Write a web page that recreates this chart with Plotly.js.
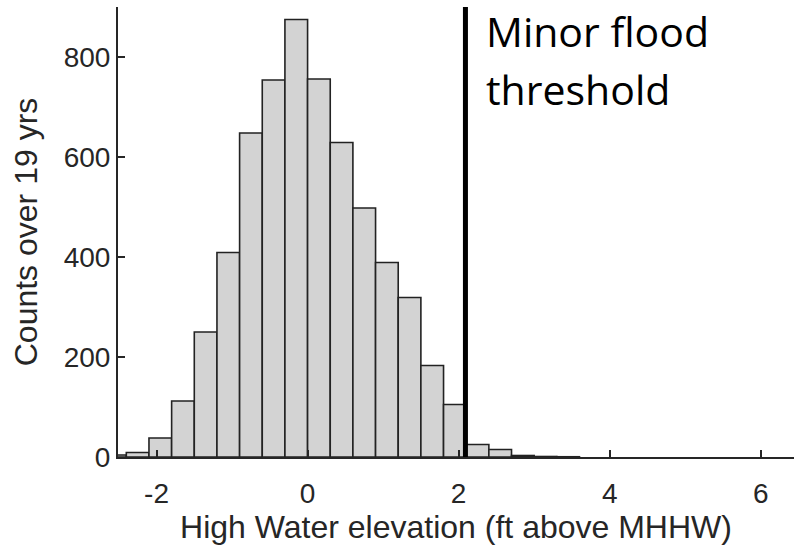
<!DOCTYPE html>
<html>
<head>
<meta charset="utf-8">
<script src="https://cdn.plot.ly/plotly-3.0.1.min.js"></script>
<style>html,body{margin:0;padding:0;background:#fff;}#chart{width:794px;height:550px;}</style>
</head>
<body>
<div id="chart"></div>
<script>
// Histogram bins (ft above MHHW), bin width 0.3
const binCenters = [-2.55, -2.25, -1.95, -1.65, -1.35, -1.05, -0.75, -0.45, -0.15, 0.15, 0.45, 0.75, 1.05, 1.35, 1.65, 1.95, 2.25, 2.55, 2.85, 3.15, 3.45];
const counts     = [4, 9, 38, 112, 250, 409, 648, 754, 875, 756, 629, 498, 389, 319, 183, 105, 25, 15, 3, 1, 0.5];
const binWidth = 0.3;
const threshold = 2.09;
const xTicks = [-2, 0, 2, 4, 6];
const yTicks = [0, 200, 400, 600, 800];
const labelLines = ["Minor flood", "threshold"];

const axisColor = '#262626';
const trace = {
  type: 'bar',
  x: binCenters,
  y: counts,
  width: binCenters.map(() => binWidth),
  marker: {color: '#d3d3d3', line: {color: '#222222', width: 1.6}},
  hoverinfo: 'x+y'
};

const layout = {
  width: 794, height: 550,
  margin: {l: 118, r: 0, t: 7, b: 93},
  paper_bgcolor: '#ffffff', plot_bgcolor: '#ffffff',
  showlegend: false,
  bargap: 0,
  font: {family: 'Liberation Sans, Arial, sans-serif', color: axisColor, size: 28},
  xaxis: {
    range: [-2.51, 6.44],
    tickvals: xTicks,
    ticktext: xTicks.map(String),
    ticks: 'inside', ticklen: 7, tickwidth: 2, tickcolor: axisColor,
    showline: true, linewidth: 2, linecolor: axisColor,
    showgrid: false, zeroline: false,
    tickfont: {size: 28, color: axisColor},
    ticklabelstandoff: 10,
    title: {text: 'High Water elevation (ft above MHHW)', font: {size: 32, color: axisColor}, standoff: 3},
    automargin: false
  },
  yaxis: {
    range: [0, 900],
    tickvals: yTicks,
    ticktext: yTicks.map(String),
    ticks: 'inside', ticklen: 7, tickwidth: 2, tickcolor: axisColor,
    showline: true, linewidth: 2, linecolor: axisColor,
    showgrid: false, zeroline: false,
    tickfont: {size: 28, color: axisColor},
    title: {text: 'Counts over 19 yrs', font: {size: 32, color: axisColor}, standoff: 16},
    automargin: false
  },
  shapes: [{
    type: 'line', xref: 'x', yref: 'paper',
    x0: threshold, x1: threshold, y0: 0, y1: 1,
    line: {color: '#000000', width: 5}
  }],
  annotations: [
    {xref: 'x', yref: 'paper', x: 2.33, y: 1.013, xanchor: 'left', yanchor: 'top',
     text: labelLines[0], showarrow: false,
     font: {family: 'Open Sans, sans-serif', size: 41, color: '#000000'}},
    {xref: 'x', yref: 'paper', x: 2.33, y: 0.885, xanchor: 'left', yanchor: 'top',
     text: labelLines[1], showarrow: false,
     font: {family: 'Open Sans, sans-serif', size: 41, color: '#000000'}}
  ]
};

Plotly.newPlot('chart', [trace], layout, {staticPlot: true, displayModeBar: false});
</script>
</body>
</html>
